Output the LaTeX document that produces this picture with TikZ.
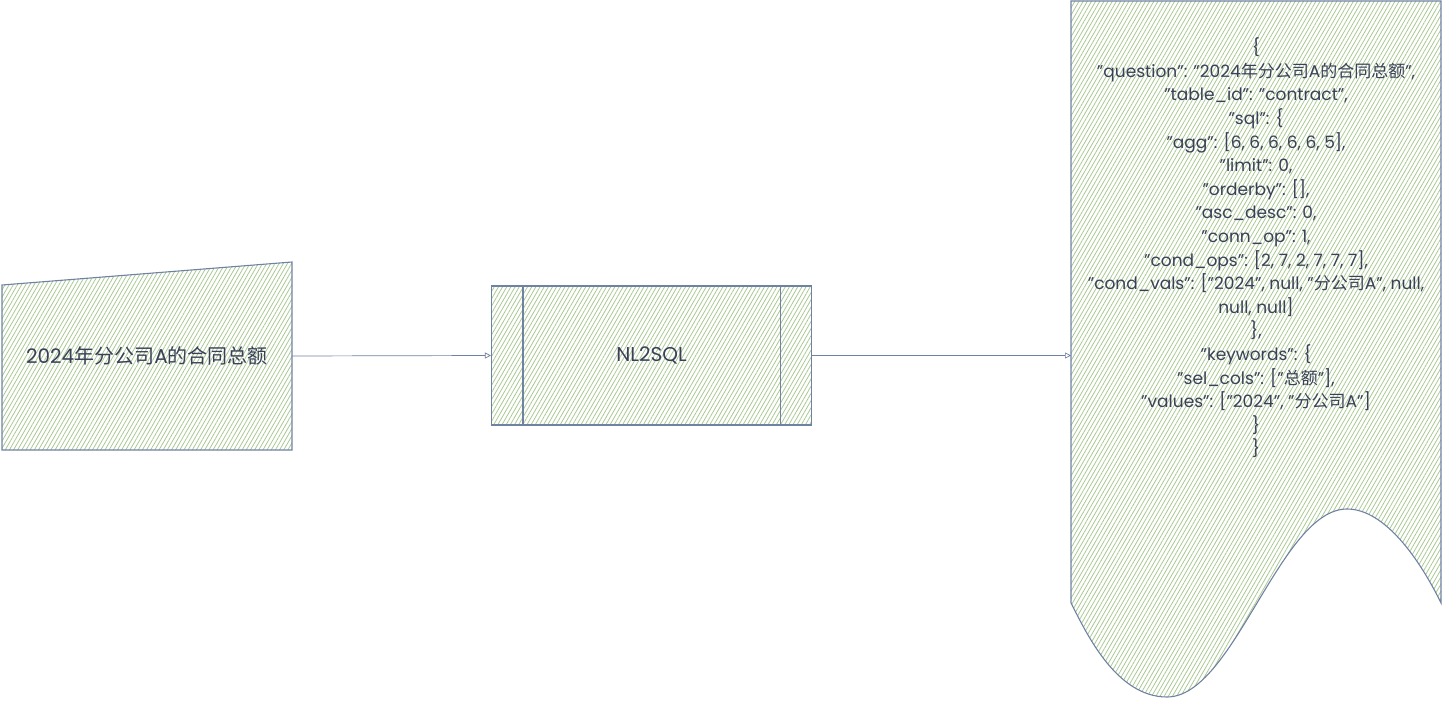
\documentclass[tikz,border=0pt]{standalone}
\usepackage{fontspec}
\setmainfont{Poppins}
\newfontfamily\cjk{Noto Sans CJK SC}
\usetikzlibrary{arrows.meta,patterns.meta,calc}
\definecolor{edge}{HTML}{7082A2}
\definecolor{ink}{HTML}{3A4157}
\definecolor{hatch}{HTML}{A9C892}
\newcommand{\zh}[1]{{\cjk #1}}

\begin{document}
\begin{tikzpicture}[x=1pt, y=-1pt,
  arrow/.style={-{Triangle[open, length=6pt, width=6pt]}, draw=edge, line width=0.7pt},
  hatched/.style={draw=edge, line width=1.1pt,
                  pattern={Lines[angle=60, distance=3.6pt, line width=0.8pt]},
                  pattern color=hatch},
  ghost/.style={inner sep=0pt, outer sep=0pt},
  txt/.style={text=ink, font=\fontsize{20}{24}\selectfont},
]
  \useasboundingbox (0,0) rectangle (1442,711);

  % question (manual input)
  \node[ghost, minimum width=290pt, minimum height=188pt] (q) at (147,356) {};
  \draw[hatched] (q.south west) -- (q.south east) -- (q.north east)
    -- ($(q.north west)+(0,23)$) -- cycle;
  \node[txt] (qt) at (q.center) {2024\zh{年分公司}A\zh{的合同总额}};

  % process
  \node[hatched, txt, minimum width=320pt, minimum height=139pt] (p) at (651.5,355.5) {NL2SQL};
  \draw[draw=edge, line width=1.1pt] ($(p.north west)+(32,0)$) -- ($(p.south west)+(32,0)$);
  \draw[draw=edge, line width=1.1pt] ($(p.north east)+(-32,0)$) -- ($(p.south east)+(-32,0)$);

  % result (document)
  \node[ghost, minimum width=370pt, minimum height=602pt] (d) at (1256,302) {};
  \draw[hatched] (d.south west) -- (d.north west) -- (d.north east) -- (d.south east)
    .. controls (1420,560) and (1385,509) .. (1347,509)
    .. controls (1280,509) and (1234,697) .. (1167,697)
    .. controls (1115,697) and (1085,630) .. (d.south west) -- cycle;
  \node[txt, font=\fontsize{17}{23.6}\selectfont, align=center] (dt) at (1256,248) {%
    \{\\
    "question": "2024\zh{年分公司}A\zh{的合同总额}",\\
    "table\_id": "contract",\\
    "sql": \{\\
    "agg": [6, 6, 6, 6, 6, 5],\\
    "limit": 0,\\
    "orderby": [],\\
    "asc\_desc": 0,\\
    "conn\_op": 1,\\
    "cond\_ops": [2, 7, 2, 7, 7, 7],\\
    "cond\_vals": ["2024", null, "\zh{分公司}A", null,\\
    null, null]\\
    \},\\
    "keywords": \{\\
    "sel\_cols": ["\zh{总额}"],\\
    "values": ["2024", "\zh{分公司}A"]\\
    \}\\
    \}};

  % connectors
  \draw[arrow] (q.east) -- (p.west);
  \draw[arrow] (p.east) -- (p.east -| d.west);
\end{tikzpicture}
\end{document}
